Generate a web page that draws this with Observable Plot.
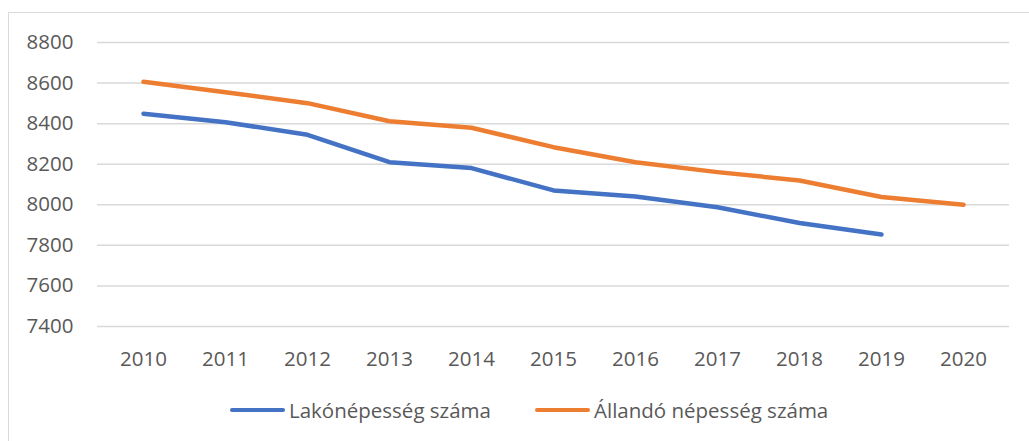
<!DOCTYPE html>
<html>
<head>
<meta charset="utf-8">
<script src="https://cdn.jsdelivr.net/npm/d3@7"></script>
<script src="https://cdn.jsdelivr.net/npm/@observablehq/plot@0.6"></script>
<style>
  html, body { margin: 0; padding: 0; background: #fff; overflow: hidden; width: 1029px; height: 441px; }
  body { position: relative; font-family: "Open Sans", "Liberation Sans", sans-serif; }
  .frame { position: absolute; left: 8px; top: 12px; width: 1040px; height: 460px; border: 1px solid #d9d9d9; box-sizing: border-box; }
  #chart { position: absolute; left: 0; top: 0; }
  .legend { position: absolute; top: 396px; left: 0; width: 1029px; height: 28px; font-size: 20.5px; color: #595959; }
  .item { position: absolute; top: 0; display: flex; align-items: center; height: 28px; }
  .sw { display: inline-block; width: 55px; height: 4.5px; border-radius: 3px; margin-right: 4px; }
</style>
</head>
<body>
<div class="frame"></div>
<div id="chart"></div>
<div class="legend" id="legend"></div>
<script>
const years = ["2010","2011","2012","2013","2014","2015","2016","2017","2018","2019","2020"];
const lakonepesseg = [8449, 8407, 8345, 8210, 8181, 8071, 8041, 7988, 7910, 7854, null];
const allando = [8606, 8555, 8501, 8412, 8380, 8284, 8210, 8161, 8120, 8038, 8000];
const yTicks = [7400, 7600, 7800, 8000, 8200, 8400, 8600, 8800];
const seriesNames = ["Lakónépesség száma", "Állandó népesség száma"];
const colors = ["#4472C4", "#ED7D31"];

const rows = [];
years.forEach((y, i) => {
  if (lakonepesseg[i] != null) rows.push({year: y, value: lakonepesseg[i], series: seriesNames[0]});
});
years.forEach((y, i) => {
  if (allando[i] != null) rows.push({year: y, value: allando[i], series: seriesNames[1]});
});

const chart = Plot.plot({
  width: 1029,
  height: 390,
  marginLeft: 97,
  marginRight: 20,
  marginTop: 42,
  marginBottom: 64,
  style: { fontFamily: "'Open Sans', 'Liberation Sans', sans-serif", fontSize: "20.5px", color: "#595959", background: "transparent" },
  x: { type: "point", domain: years, padding: 0.5, label: null, tickSize: 0, tickPadding: 25 },
  y: { domain: [7400, 8800], ticks: yTicks, label: null, tickSize: 0, tickPadding: 24, tickFormat: "d" },
  color: { domain: seriesNames, range: colors },
  marks: [
    Plot.ruleY(yTicks, { stroke: "#d9d9d9", strokeWidth: 1.5 }),
    Plot.axisX({ tickSize: 0, tickPadding: 25, fill: "#595959", fontSize: 20.5 }),
    Plot.axisY({ ticks: yTicks, tickSize: 0, tickPadding: 24, tickFormat: "d", fill: "#595959", fontSize: 20.5 }),
    Plot.line(rows, { x: "year", y: "value", z: "series", stroke: "series", strokeWidth: 4.5, strokeLinecap: "round", strokeLinejoin: "round" })
  ]
});
document.getElementById("chart").appendChild(chart);

const legend = document.getElementById("legend");
const lefts = [230, 535];
seriesNames.forEach((name, i) => {
  const item = document.createElement("div");
  item.className = "item";
  item.style.left = lefts[i] + "px";
  const sw = document.createElement("span");
  sw.className = "sw";
  sw.style.background = colors[i];
  const t = document.createElement("span");
  t.textContent = name;
  item.appendChild(sw);
  item.appendChild(t);
  legend.appendChild(item);
});
</script>
</body>
</html>
